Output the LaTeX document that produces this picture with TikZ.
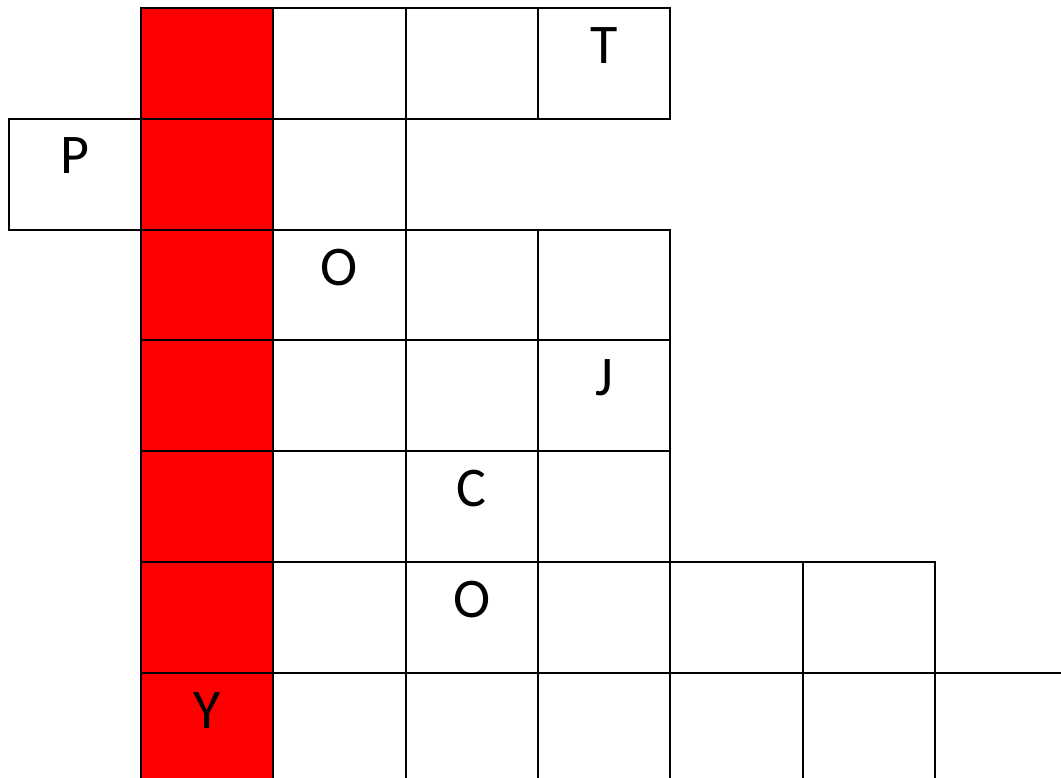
\documentclass[tikz,border=0pt]{standalone}
\usepackage{fontspec}
\setmainfont{Carlito}
\usetikzlibrary{positioning}

\begin{document}
\begin{tikzpicture}[x=1pt, y=-1pt,
    cell/.style={rectangle, draw, line width=2pt, inner sep=0pt,
                 minimum width=132.33pt, minimum height=110.83pt},
    redcell/.style={cell, fill=red},
    letter/.style={inner sep=0pt, font=\fontsize{56}{60}\selectfont}
  ]
  \clip (0,0) rectangle (1061,778);

  % red column
  \foreach \i in {0,...,6}
    \node[redcell] (c\i0) at ({141+0.5*132.33},{8+(\i+0.5)*110.83}) {};

  % white cells, row / last column
  \foreach \i/\n in {0/3,1/1,2/3,3/3,4/3,5/5,6/6}
    \foreach \j in {1,...,\n}
      \node[cell] (c\i\j) at ({141+(\j+0.5)*132.33},{8+(\i+0.5)*110.83}) {};

  \node[cell] (pcell) at ({141-0.5*132.33},{8+1.5*110.83}) {};

  % letters
  \node[letter, below=20pt of c03.north] (t) {T};
  \node[letter, below=20pt of pcell.north] (p) {P};
  \node[letter, below=20pt of c21.north] (o1) {O};
  \node[letter, below=20pt of c33.north] (j) {J};
  \node[letter, below=20pt of c42.north] (c) {C};
  \node[letter, below=20pt of c52.north] (o2) {O};
  \node[letter, below=20pt of c60.north] (y) {Y};

\end{tikzpicture}
\end{document}
